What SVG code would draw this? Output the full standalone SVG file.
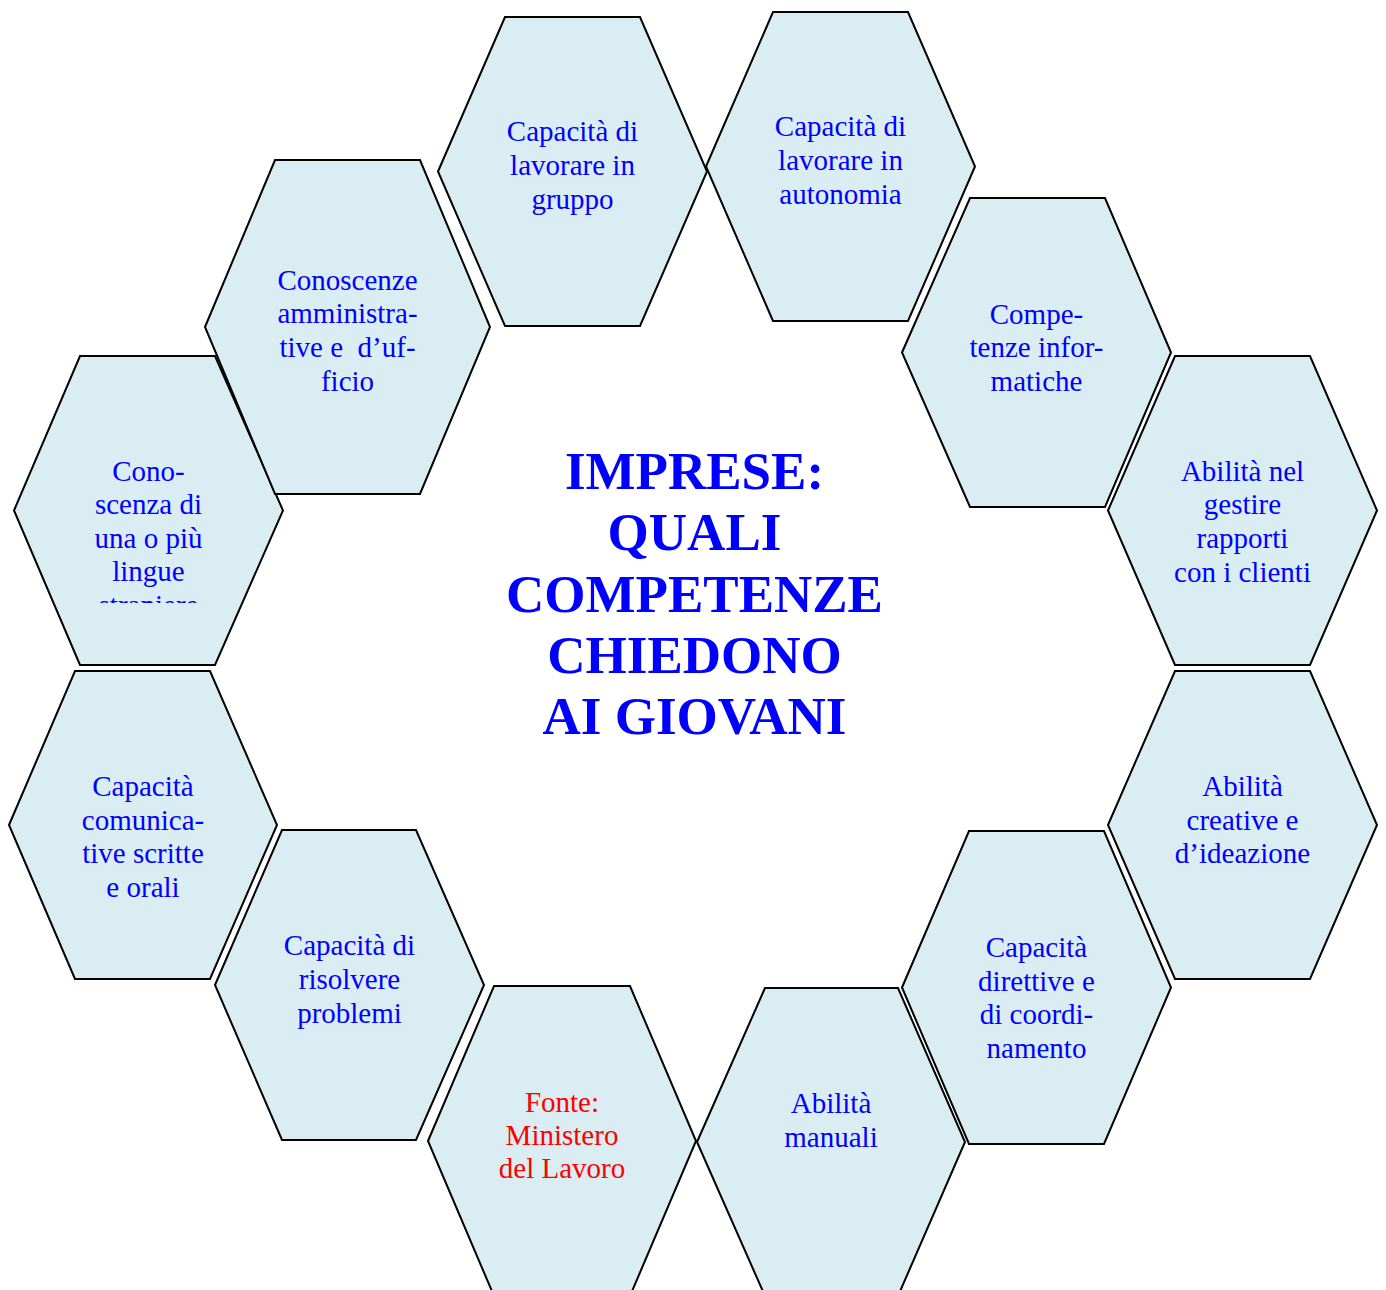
<svg xmlns="http://www.w3.org/2000/svg" width="1386" height="1290" viewBox="0 0 1386 1290">
<style>
.hex{fill:#DAEDF3;stroke:#000;stroke-width:2;stroke-linejoin:miter}
.t{font-family:"Liberation Serif","Times New Roman",serif;font-size:29px;fill:#0000FF;text-anchor:middle}
.red{fill:#FF0000}
.title{font-family:"Liberation Serif","Times New Roman",serif;font-size:53px;font-weight:bold;fill:#0000FF;text-anchor:middle}
</style>
<defs>
<clipPath id="clip5"><rect x="14" y="356" width="269" height="247"/></clipPath>
</defs>
<rect width="1386" height="1290" fill="#fff"/>
<g id="connectors"></g>
<g id="hex1"><polygon class="hex" points="438,171.5 505,17 640,17 707,171.5 640,326 505,326"/>
<text class="t" x="572.5" y="141">Capacità di</text><text class="t" x="572.5" y="175">lavorare in</text><text class="t" x="572.5" y="209">gruppo</text></g>
<g id="hex2"><polygon class="hex" points="706,166.5 773,12 908,12 975,166.5 908,321 773,321"/>
<text class="t" x="840.5" y="136">Capacità di</text><text class="t" x="840.5" y="170">lavorare in</text><text class="t" x="840.5" y="204">autonomia</text></g>
<g id="hex4"><polygon class="hex" points="902,352.5 970,198 1105,198 1171,352.5 1105,507 970,507"/>
<text class="t" x="1036.5" y="324">Compe-</text><text class="t" x="1036.5" y="357">tenze infor-</text><text class="t" x="1036.5" y="391">matiche</text></g>
<g id="hex5"><polygon class="hex" points="14,510.5 80,356 215,356 283,510.5 215,665 80,665"/>
<g clip-path="url(#clip5)"><text class="t" x="148.5" y="481">Cono-</text><text class="t" x="148.5" y="514">scenza di</text><text class="t" x="148.5" y="548">una o più</text><text class="t" x="148.5" y="581">lingue</text><text class="t" x="148.5" y="615">straniere</text></g></g>
<g id="hex3"><polygon class="hex" points="205,327 275,160 420,160 490,327 420,494 275,494"/>
<text class="t" x="347.5" y="290">Conoscenze</text><text class="t" x="347.5" y="323">amministra-</text><text class="t" x="347.5" y="357">tive e&#160; d’uf-</text><text class="t" x="347.5" y="391">ficio</text></g>
<g id="hex6"><polygon class="hex" points="1108,510.5 1175,356 1310,356 1377,510.5 1310,665 1175,665"/>
<text class="t" x="1242.5" y="481">Abilità nel</text><text class="t" x="1242.5" y="514">gestire</text><text class="t" x="1242.5" y="548">rapporti</text><text class="t" x="1242.5" y="582">con i clienti</text></g>
<g id="hex7"><polygon class="hex" points="9,825 75,671 210,671 277,825 210,979 75,979"/>
<text class="t" x="143" y="796">Capacità</text><text class="t" x="143" y="830">comunica-</text><text class="t" x="143" y="863">tive scritte</text><text class="t" x="143" y="897">e orali</text></g>
<g id="hex8"><polygon class="hex" points="1108,825 1175,671 1310,671 1377,825 1310,979 1175,979"/>
<text class="t" x="1242.5" y="796">Abilità</text><text class="t" x="1242.5" y="830">creative e</text><text class="t" x="1242.5" y="863">d’ideazione</text></g>
<g id="hex9"><polygon class="hex" points="215,985 282,830 416,830 484,985 416,1140 282,1140"/>
<text class="t" x="349.5" y="955">Capacità di</text><text class="t" x="349.5" y="989">risolvere</text><text class="t" x="349.5" y="1023">problemi</text></g>
<g id="hex10"><polygon class="hex" points="902,987.5 969,831 1104,831 1171,987.5 1104,1144 969,1144"/>
<text class="t" x="1036.5" y="957">Capacità</text><text class="t" x="1036.5" y="991">direttive e</text><text class="t" x="1036.5" y="1024">di coordi-</text><text class="t" x="1036.5" y="1058">namento</text></g>
<g id="hex11"><polygon class="hex" points="428,1141 494,986 630,986 696,1141 630,1296 494,1296"/>
<text class="t red" x="562" y="1112">Fonte:</text><text class="t red" x="562" y="1145">Ministero</text><text class="t red" x="562" y="1178">del Lavoro</text></g>
<g id="hex12"><polygon class="hex" points="697,1142 765,988 898,988 965,1142 898,1296 765,1296"/>
<text class="t" x="831" y="1113">Abilità</text><text class="t" x="831" y="1147">manuali</text></g>
<g id="title">
<text class="title" x="694.5" y="489">IMPRESE:</text>
<text class="title" x="694.5" y="550">QUALI</text>
<text class="title" x="694.5" y="612">COMPETENZE</text>
<text class="title" x="694.5" y="673">CHIEDONO</text>
<text class="title" x="694.5" y="734">AI GIOVANI</text>
</g>
</svg>
